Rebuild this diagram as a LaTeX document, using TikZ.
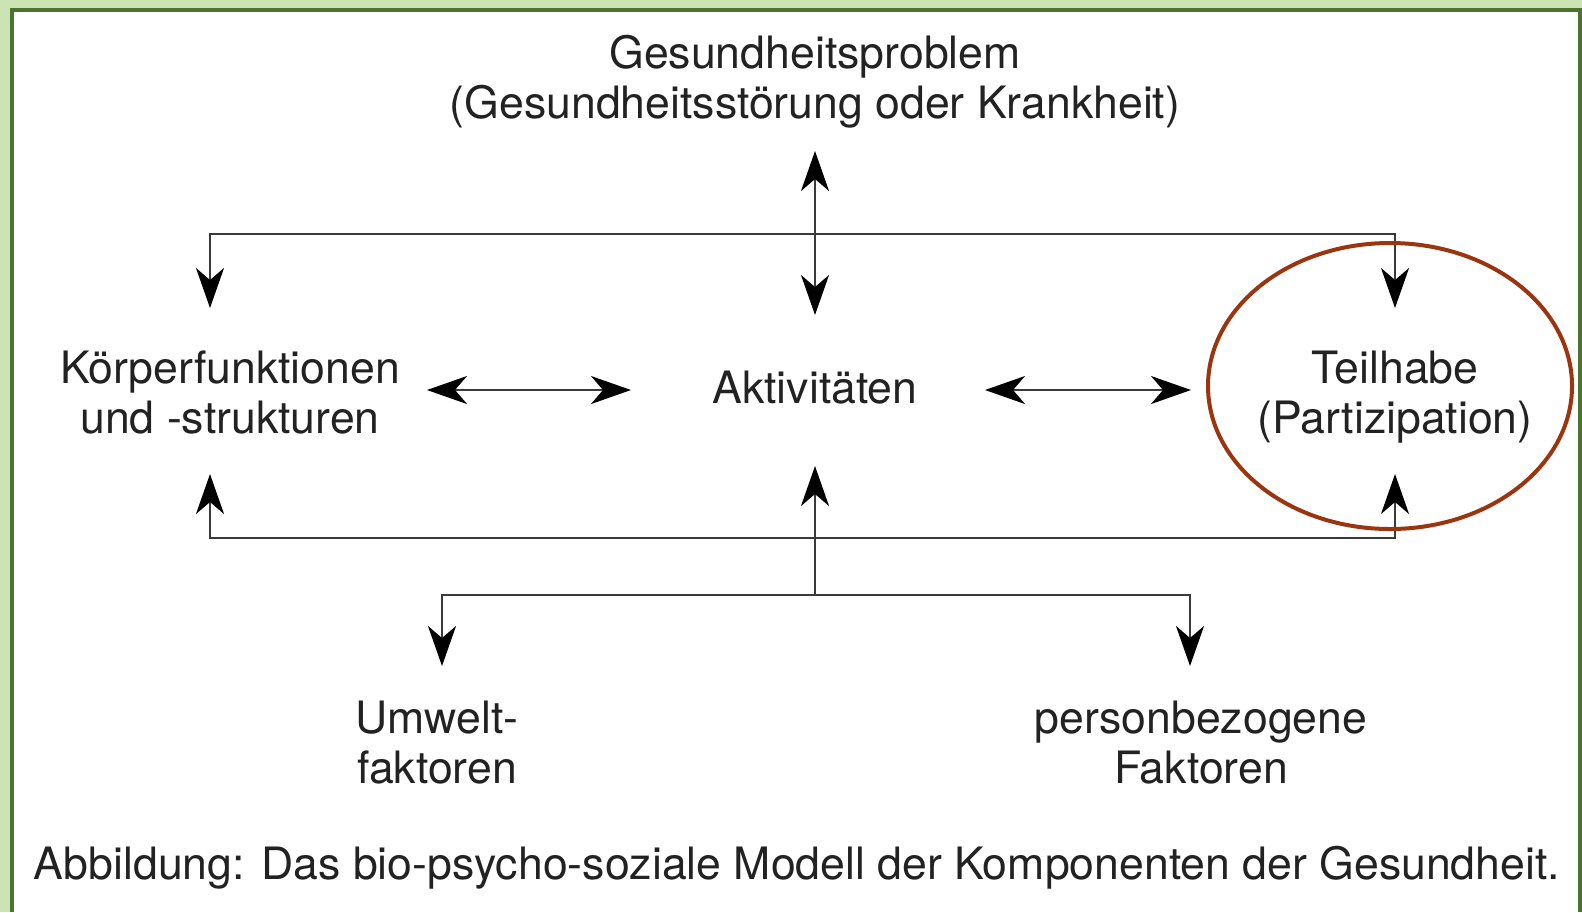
\documentclass[tikz,border=0pt]{standalone}
\usepackage{fontspec}
\setmainfont{TeX Gyre Heros}
\usetikzlibrary{arrows.meta}
\definecolor{bglight}{HTML}{CCE3B4}
\definecolor{bgdark}{HTML}{4A7430}
\definecolor{ringcol}{HTML}{9B3510}
\definecolor{linecol}{HTML}{3A3A3A}
\definecolor{txtcol}{HTML}{222222}
\tikzset{myhead/.tip={Stealth[length=20pt,width=14pt,inset=6pt,color=black,fill=black]}}
\begin{document}
\begin{tikzpicture}[x=0.5pt,y=-0.5pt,
  lbl/.style={align=center,text=txtcol,font=\fontsize{22.3pt}{25pt}\selectfont,inner sep=0pt},
  conn/.style={draw=linecol,line width=1.1pt},
  tip/.style={-{myhead}},
  dtip/.style={{myhead}-{myhead}}
]
\useasboundingbox (0,0) rectangle (1582,912);
\fill[bglight] (0,0) rectangle (1582,912);
\fill[white] (12,10) rectangle (1580,912);
\draw[bgdark,line width=2pt] (12,912) -- (12,10) -- (1580,10) -- (1580,912);

% texts
\node[lbl] (gp) at (815,82) {Gesundheitsproblem\\(Gesundheitsstörung oder Krankheit)};
\node[lbl] (kf) at (230,392) {Körperfunktionen\\und -strukturen};
\node[lbl] (ak) at (815,388) {Aktivitäten};
\node[lbl] (th) at (1395,397) {Teilhabe\\(Partizipation)};
\node[lbl] (uf) at (437,743) {Umwelt-\\faktoren};
\node[lbl] (pf) at (1201,743) {personbezogene\\Faktoren};
\node[lbl] (cap) at (797,868) {Abbildung: Das bio-psycho-soziale Modell der Komponenten der Gesundheit.};

% coordinates
\coordinate (gpt) at (815,151);
\coordinate (akt) at (815,315);
\coordinate (akb) at (815,466);
\coordinate (tl) at (210,234);
\coordinate (tr) at (1395,234);
\coordinate (kft) at (210,308);
\coordinate (tht) at (1395,308);
\coordinate (bl) at (210,538);
\coordinate (br) at (1395,538);
\coordinate (kfb) at (210,474);
\coordinate (thb) at (1395,474);
\coordinate (lj) at (815,595);
\coordinate (ll) at (442,595);
\coordinate (lr) at (1190,595);
\coordinate (uft) at (442,666);
\coordinate (pft) at (1190,666);
\coordinate (kfr) at (427,390);
\coordinate (akl) at (631,390);
\coordinate (akr) at (985,390);
\coordinate (thl) at (1191,390);

% connectors
\draw[conn,dtip] (gpt) -- (akt);
\draw[conn,tip] (tr) -- (tl) -- (kft);
\draw[conn,tip] (tl) -- (tr) -- (tht);
\draw[conn,tip] (br) -- (bl) -- (kfb);
\draw[conn,tip] (bl) -- (br) -- (thb);
\draw[conn,tip] (lj) -- (akb);
\draw[conn,tip] (lr) -- (ll) -- (uft);
\draw[conn,tip] (ll) -- (lr) -- (pft);
\draw[conn,dtip] (kfr) -- (akl);
\draw[conn,dtip] (akr) -- (thl);

% ring
\draw[ringcol,line width=2pt] (1390,386) ellipse [x radius=182, y radius=143];
\end{tikzpicture}
\end{document}
